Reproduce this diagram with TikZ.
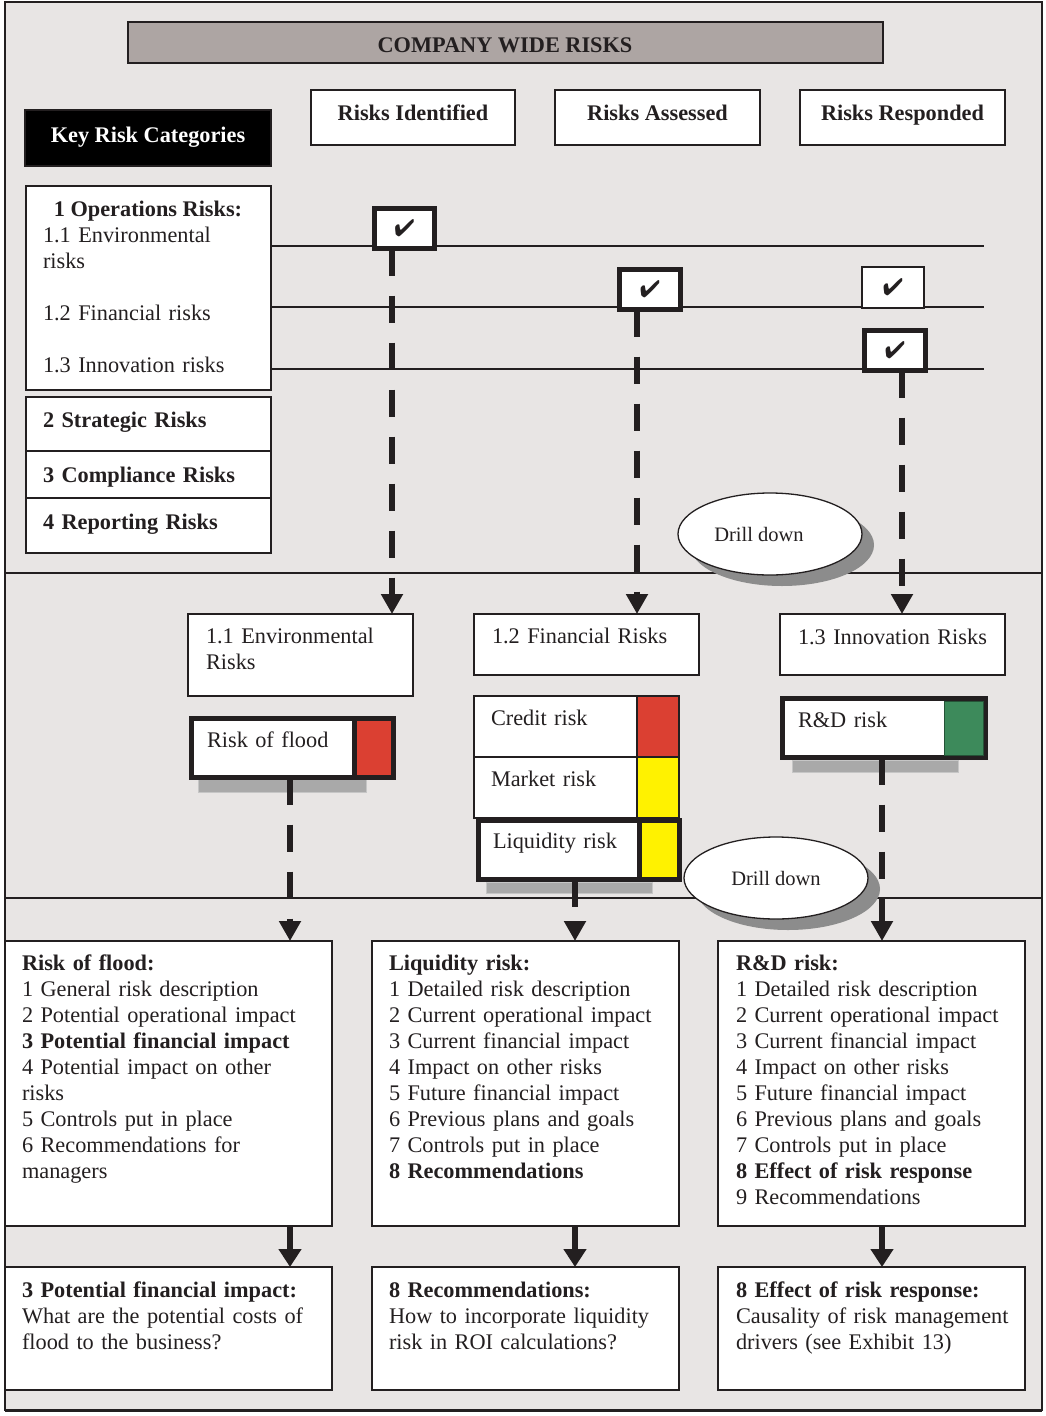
\documentclass[tikz,border=0pt]{standalone}
\usepackage{fontspec}
\setmainfont{Liberation Serif}
\usepackage{pifont}
\usetikzlibrary{arrows.meta,shapes.geometric,shadows}

\definecolor{bgc}{HTML}{E8E5E4}
\definecolor{titlec}{HTML}{ADA5A3}
\definecolor{ink}{HTML}{231F20}
\definecolor{riskred}{HTML}{DB4032}
\definecolor{riskyellow}{HTML}{FFF200}
\definecolor{riskgreen}{HTML}{3D8A5B}
\definecolor{shade}{HTML}{8C8C8C}

\newcommand\bodyfont{\fontsize{22.3}{26}\selectfont}
\newcommand\drillfont{\fontsize{20.5}{24}\selectfont}

% box from corner (x1,y1) to corner (x2,y2), y counted downwards
\newcommand\mkbox[7]{\node[#1,minimum width={#5-#3},minimum height={#6-#4}] (#2) at ({(#3+#5)/2},{(#4+#6)/2}) {#7};}

\tikzset{
  every node/.style={inner sep=0pt, outer sep=0pt},
  plain/.style={draw=ink, fill=white, line width=1.8pt},
  heavy/.style={draw=ink, fill=white, line width=5pt},
  shadowbar/.style={fill=shade!75, draw=gray!45, line width=1pt},
  txt/.style={anchor=base west, align=left, text width=330pt, font=\bodyfont, text=ink},
  ctxt/.style={anchor=base, font=\bodyfont\bfseries, text=ink},
  rowline/.style={draw=ink, line width=1.5pt},
  dashflow/.style={draw=ink, line width=6.5pt, dash pattern=on 27pt off 20pt, -{Triangle[length=20pt,width=21pt]}},
  flow/.style={draw=ink, line width=6pt, -{Triangle[length=18pt,width=22pt]}},
  drill/.style={ellipse, draw=ink, fill=white, line width=1.3pt, minimum width=184pt, minimum height=82pt,
    font=\drillfont, text=ink,
    drop shadow={shadow xshift=12pt, shadow yshift=-11pt, fill=shade, opacity=1}},
  tick/.style={font=\fontsize{24}{24}\selectfont, text=ink},
}

\begin{document}
\begin{tikzpicture}[x=1pt,y=-1pt]
\useasboundingbox (0,0) rectangle (1046,1416);

% outer frame and the three bands
\mkbox{draw=ink,line width=1.5pt,fill=bgc}{frame}{5}{2}{1042}{1410}{}
\draw[line width=3pt,draw=ink] (frame.south west) -- (frame.south east);
\coordinate (d1) at (0,573);
\coordinate (d2) at (0,898);
\draw[rowline] (frame.west |- d1) -- (frame.east |- d1);
\draw[rowline] (frame.west |- d2) -- (frame.east |- d2);

% title and column headers
\mkbox{draw=ink,line width=2.5pt,fill=titlec}{title}{128}{22}{883}{63}{}
\node[ctxt] (titletext) at (505,52) {COMPANY WIDE RISKS};
\mkbox{draw=ink,fill=black,line width=1.5pt}{keycat}{25}{110}{271}{166}{}
\node[ctxt,text=white] (keytext) at (148,142) {Key Risk Categories};
\mkbox{plain}{ident}{311}{90}{515}{145}{}
\node[ctxt] (identtext) at (413,120) {Risks Identified};
\mkbox{plain}{assess}{555}{90}{760}{145}{}
\node[ctxt] (assesstext) at (657.5,120) {Risks Assessed};
\mkbox{plain}{respond}{800}{90}{1005}{145}{}
\node[ctxt] (respondtext) at (902.5,120) {Risks Responded};

% risk categories
\mkbox{plain}{ops}{26}{186}{271}{390}{}
\node[ctxt] (opstitle) at (148,216) {1 Operations Risks:};
\node[txt] (opsenv) at (43,242) {1.1 Environmental\\risks};
\node[txt] (opsfin) at (43,320) {1.2 Financial risks};
\node[txt] (opsinn) at (43,372) {1.3 Innovation risks};
\mkbox{plain}{strat}{26}{397}{271}{451}{}
\node[txt] (strattext) at (43,427) {\textbf{2 Strategic Risks}};
\mkbox{plain}{compl}{26}{451}{271}{498}{}
\node[txt] (compltext) at (43,482) {\textbf{3 Compliance Risks}};
\mkbox{plain}{report}{26}{498}{271}{553}{}
\node[txt] (reporttext) at (43,529) {\textbf{4 Reporting Risks}};

% one row line per operations risk
\coordinate (r1) at (984,246);
\coordinate (r2) at (984,307);
\coordinate (r3) at (984,369);
\draw[rowline] (ops.east |- r1) -- (r1);
\draw[rowline] (ops.east |- r2) -- (r2);
\draw[rowline] (ops.east |- r3) -- (r3);

% ticks
\mkbox{heavy,tick}{chk1}{374.5}{208.5}{434.5}{248.5}{\ding{52}}
\mkbox{heavy,tick}{chk2}{619.5}{269.5}{680.5}{309.5}{\ding{52}}
\mkbox{plain,tick,line width=1.3pt}{chk3}{862}{267}{924}{308}{\ding{52}}
\mkbox{heavy,tick}{chk4}{864.5}{330.5}{925.5}{370.5}{\ding{52}}

% columns of the drill-down flows
\coordinate (cI) at (392,0);
\coordinate (cII) at (637,0);
\coordinate (cIII) at (902,0);
\coordinate (cA) at (290,0);
\coordinate (cB) at (575,0);
\coordinate (cC) at (882,0);

% second band: risk groups
\mkbox{plain}{env}{188}{614}{413}{696}{}
\node[txt] (envtext) at (206,643) {1.1 Environmental\\Risks};
\mkbox{plain}{fin}{474}{614}{699}{675}{}
\node[txt] (fintext) at (492,643) {1.2 Financial Risks};
\mkbox{plain}{inn}{780}{614}{1005}{675}{}
\node[txt] (inntext) at (798,644) {1.3 Innovation Risks};

\draw[dashflow] (chk1.south -| cI) -- (env.north -| cI);
\draw[dashflow] (chk2.south -| cII) -- (fin.north -| cII);
\draw[dashflow] (chk4.south -| cIII) -- (inn.north -| cIII);

\node[drill] (drill1) at (770,534) {\kern-22pt Drill down};

% individual risks with their rating
\mkbox{shadowbar}{floodshadow}{198}{779}{366}{792}{}
\mkbox{heavy}{flood}{191.5}{718.5}{393.5}{777.5}{}
\mkbox{heavy,fill=riskred}{floodlevel}{354}{718.5}{393.5}{777.5}{}
\node[txt] (floodtext) at (207,747) {Risk of flood};

\mkbox{plain,line width=1.5pt}{credit}{474}{696}{637}{757}{}
\mkbox{plain,line width=1.5pt,fill=riskred}{creditlevel}{637}{696}{679}{757}{}
\node[txt] (credittext) at (491,725) {Credit risk};
\mkbox{plain,line width=1.5pt}{market}{474}{757}{637}{818}{}
\mkbox{plain,line width=1.5pt,fill=riskyellow}{marketlevel}{637}{757}{679}{818}{}
\node[txt] (markettext) at (491,786) {Market risk};
\mkbox{shadowbar}{liquidshadow}{486}{882}{652}{893}{}
\mkbox{heavy}{liquid}{478.5}{820.5}{679.5}{879.5}{}
\mkbox{heavy,fill=riskyellow}{liquidlevel}{639}{820.5}{679.5}{879.5}{}
\node[txt] (liquidtext) at (493,848) {Liquidity risk};

\mkbox{shadowbar}{rndshadow}{792}{760}{958}{772}{}
\mkbox{heavy}{rnd}{782.5}{698.5}{985.5}{757.5}{}
\mkbox{fill=riskgreen,draw=riskgreen!60!black,line width=1pt}{rndlevel}{944}{701}{983}{755}{}
\node[txt] (rndtext) at (798,727) {R\&D risk};

\node[drill] (drill2) at (776,878) {Drill down};

% third band: risk reports
\mkbox{plain,line width=2pt}{b1}{5}{941}{332}{1226}{}
\mkbox{plain,line width=2pt}{b2}{372}{941}{679}{1226}{}
\mkbox{plain,line width=2pt}{b3}{718}{941}{1025}{1226}{}
\mkbox{plain,line width=2pt}{c1}{5}{1267}{332}{1390}{}
\mkbox{plain,line width=2pt}{c2}{372}{1267}{679}{1390}{}
\mkbox{plain,line width=2pt}{c3}{718}{1267}{1025}{1390}{}

\node[txt] (b1text) at (22,970) {\textbf{Risk of flood:}\\
1 General risk description\\
2 Potential operational impact\\
\textbf{3 Potential financial impact}\\
4 Potential impact on other\\
risks\\
5 Controls put in place\\
6 Recommendations for\\
managers};
\node[txt] (b2text) at (389,970) {\textbf{Liquidity risk:}\\
1 Detailed risk description\\
2 Current operational impact\\
3 Current financial impact\\
4 Impact on other risks\\
5 Future financial impact\\
6 Previous plans and goals\\
7 Controls put in place\\
\textbf{8 Recommendations}};
\node[txt] (b3text) at (736,970) {\textbf{R\&D risk:}\\
1 Detailed risk description\\
2 Current operational impact\\
3 Current financial impact\\
4 Impact on other risks\\
5 Future financial impact\\
6 Previous plans and goals\\
7 Controls put in place\\
\textbf{8 Effect of risk response}\\
9 Recommendations};

\node[txt] (c1text) at (22,1297) {\textbf{3 Potential financial impact:}\\
What are the potential costs of\\
flood to the business?};
\node[txt] (c2text) at (389,1297) {\textbf{8 Recommendations:}\\
How to incorporate liquidity\\
risk in ROI calculations?};
\node[txt] (c3text) at (736,1297) {\textbf{8 Effect of risk response:}\\
Causality of risk management\\
drivers (see Exhibit 13)};

\draw[dashflow] (flood.south -| cA) -- (b1.north -| cA);
\draw[dashflow] (liquid.south -| cB) -- (b2.north -| cB);
\draw[dashflow] (rnd.south -| cC) -- (b3.north -| cC);

\draw[flow] (b1.south -| cA) -- (c1.north -| cA);
\draw[flow] (b2.south -| cB) -- (c2.north -| cB);
\draw[flow] (b3.south -| cC) -- (c3.north -| cC);
\end{tikzpicture}
\end{document}
